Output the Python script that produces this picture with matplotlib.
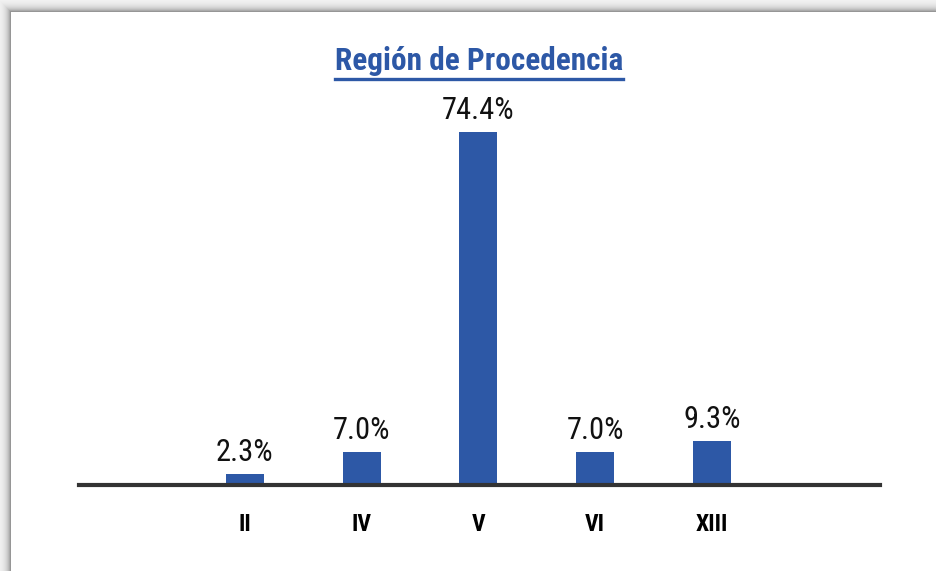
import numpy as np
import matplotlib.pyplot as plt
from matplotlib.lines import Line2D

# data
regiones = ['II', 'IV', 'V', 'VI', 'XIII']
porcentaje = [2.3, 7.0, 74.4, 7.0, 9.3]

azul = '#2d58a6'
fuente = ['Roboto Condensed', 'DejaVu Sans']
W, H = 936, 571

fig = plt.figure(figsize=(W / 100, H / 100), dpi=100)

# card shadow in the background
bg = fig.add_axes([0, 0, 1, 1], zorder=-5)
yy, xx = np.mgrid[0:H, 0:W]
d = np.maximum(np.maximum(11 - xx, 12 - yy), 0).astype(float)
g = np.where(d > 0, 0.97 - 0.38 * np.exp(-(d - 1) / 4.0), 1.0)
bg.imshow(np.dstack([g, g, g]), aspect='auto', extent=(0, W, H, 0))
bg.set_xlim(0, W)
bg.set_ylim(H, 0)
bg.axis('off')

ax = fig.add_axes([79 / W, 86 / H, 801 / W, 385 / H])
x = np.arange(len(regiones))
bars = ax.bar(x, porcentaje, width=0.325, color=azul, zorder=2)
ax.set_xlim(-1.42, 5.44)
ax.set_ylim(0, 81.1)

for b, v in zip(bars, porcentaje):
    ax.annotate(f'{v:.1f}%', (b.get_x() + b.get_width() / 2, v),
                xytext=(0, 5), textcoords='offset points', ha='center', va='bottom',
                fontsize=22, family=fuente, color='#111111')

ax.set_xticks(x)
ax.set_xticklabels(regiones, fontsize=17, fontweight='bold', family=fuente)
ax.tick_params(axis='x', length=0, pad=20)
ax.set_yticks([])
for s in ['top', 'right', 'left']:
    ax.spines[s].set_visible(False)
ax.spines['bottom'].set_linewidth(3)
ax.spines['bottom'].set_color('#333333')
ax.patch.set_alpha(0)

t = fig.text(479 / W, 1 - 70 / H, 'Región de Procedencia', ha='center', va='baseline',
             fontsize=22.5, fontweight='bold', color=azul, family=fuente)
fig.canvas.draw()
bb = t.get_window_extent()
yl = 1 - 79 / H
fig.add_artist(Line2D([bb.x0 / W, bb.x1 / W], [yl, yl], color=azul, lw=2.4,
                      transform=fig.transFigure))

fig.savefig('out.png', dpi=100)
